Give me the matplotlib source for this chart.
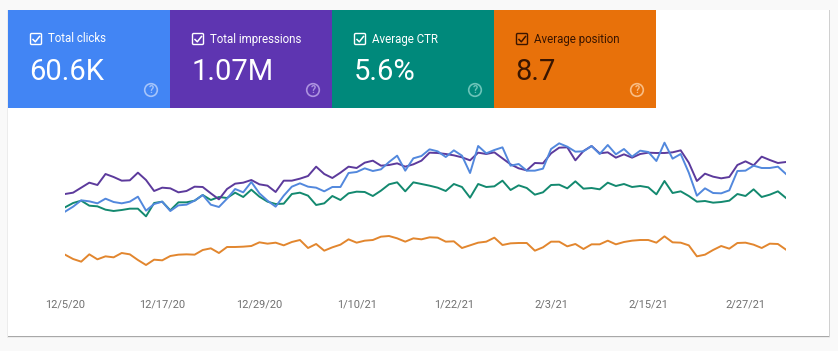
import pandas as pd
import matplotlib
matplotlib.use("Agg")
import matplotlib.pyplot as plt
from matplotlib.patches import Rectangle, Circle, FancyBboxPatch

W, H = 838, 351

# values are heights, no axis shown in the original
dias = pd.date_range("2020-12-05", periods=90, freq="D")

impressoes = [228, 232, 247, 262, 255, 288, 279, 268, 269, 292, 270, 237, 247, 245, 233, 237, 250, 249, 230, 212,
              243, 259, 262, 270, 257, 253, 234, 268, 268, 274, 282, 310, 288, 276, 292, 310, 306, 322, 328, 313,
              315, 320, 310, 317, 328, 352, 351, 348, 344, 338, 329, 352, 348, 353, 335, 317, 305, 299, 321, 320,
              350, 367, 368, 329, 357, 372, 350, 353, 337, 347, 337, 348, 352, 351, 351, 353, 359, 322, 267, 289,
              280, 275, 279, 315, 326, 314, 340, 330, 321, 324]
cliques = [175, 190, 209, 206, 200, 214, 204, 200, 205, 220, 178, 198, 205, 177, 194, 196, 208, 225, 196, 189,
           214, 243, 233, 264, 230, 208, 190, 223, 250, 260, 250, 247, 236, 249, 249, 291, 294, 305, 297, 302,
           324, 343, 298, 335, 342, 362, 356, 339, 359, 343, 291, 372, 350, 360, 368, 313, 318, 298, 298, 304,
           363, 380, 370, 355, 356, 372, 348, 375, 347, 363, 340, 358, 354, 327, 382, 334, 348, 292, 223, 245,
           231, 230, 239, 297, 298, 313, 306, 306, 310, 288]
ctr = [188, 201, 208, 193, 191, 181, 177, 180, 184, 184, 161, 201, 205, 179, 203, 203, 208, 225, 210, 219,
       216, 232, 219, 241, 220, 205, 198, 199, 228, 232, 223, 195, 200, 222, 210, 230, 235, 234, 222, 238,
       257, 263, 236, 263, 258, 253, 247, 237, 258, 249, 217, 258, 249, 251, 268, 240, 254, 246, 226, 233,
       255, 256, 245, 266, 244, 246, 242, 262, 252, 258, 249, 252, 248, 227, 267, 231, 236, 222, 205, 207,
       202, 204, 208, 228, 222, 242, 219, 226, 236, 216]
posicao = [46, 33, 25, 47, 32, 41, 38, 51, 47, 30, 15, 31, 29, 42, 46, 47, 46, 60, 65, 51,
           69, 69, 70, 72, 83, 79, 82, 74, 84, 90, 66, 78, 58, 68, 76, 92, 82, 88, 90, 100,
           102, 95, 85, 95, 92, 98, 97, 85, 86, 66, 74, 82, 85, 97, 75, 80, 81, 81, 58, 68,
           85, 85, 71, 78, 63, 77, 77, 88, 77, 84, 88, 90, 90, 82, 101, 83, 82, 74, 41, 46,
           60, 72, 64, 81, 82, 76, 66, 79, 78, 61]

ticks = ["2020-12-05", "2020-12-17", "2020-12-29", "2021-01-10", "2021-01-22", "2021-02-03", "2021-02-15", "2021-02-27"]
tick_labels = ["12/5/20", "12/17/20", "12/29/20", "1/10/21", "1/22/21", "2/3/21", "2/15/21", "2/27/21"]

titulos = ["Total clicks", "Total impressions", "Average CTR", "Average position"]
totais = ["60.6K", "1.07M", "5.6%", "8.7"]
cores_card = ["#4285f4", "#5e35b1", "#00897b", "#e8710a"]
cores_texto = ["white", "white", "white", "#3a1500"]
cores_ajuda = ["#a5c4fa", "#ad93e0", "#6cc4b9", "#f8bd85"]

plt.rcParams["font.family"] = ["Roboto", "DejaVu Sans"]
fig = plt.figure(figsize=(W / 100, H / 100), dpi=100, facecolor="#f9f9f9")

# background layer in pixel coordinates
bg = fig.add_axes([0, 0, 1, 1])
bg.set_xlim(0, W)
bg.set_ylim(H, 0)
bg.axis("off")
# soft shadow under the card
bg.add_patch(Rectangle((7, 10), 823, 328, fc="#ececec", ec="none", zorder=1))
bg.add_patch(Rectangle((7.5, 10), 822, 327, fc="#d0d0d0", ec="none", zorder=1))
bg.add_patch(Rectangle((8, 10), 821, 326.6, fc="#a8a8a8", ec="none", zorder=1))
bg.add_patch(Rectangle((8, 10), 821, 326, fc="white", ec="none", zorder=2))

for i in range(4):
    x0 = 8 + i * 162
    fg = cores_texto[i]
    bg.add_patch(Rectangle((x0, 10), 162, 97.7, fc=cores_card[i], ec="none", zorder=3))
    bg.add_patch(FancyBboxPatch((x0 + 22.5, 33.5), 11, 11, boxstyle="round,pad=0,rounding_size=1.2",
                                fc="none", ec=fg, lw=1, zorder=4))
    bg.plot([x0 + 25, x0 + 27.3, x0 + 31.5], [39.5, 41.8, 36.5], color=fg, lw=1.1, zorder=5)
    bg.text(x0 + 40, 39, titulos[i], color=fg, fontsize=8.3, va="center", ha="left", zorder=5)
    bg.text(x0 + 21.5, 71.5, totais[i], color=fg, fontsize=21, va="center", ha="left", zorder=5)
    bg.add_patch(Circle((x0 + 143, 90), 6.3, fc="none", ec=cores_ajuda[i], lw=1.2, zorder=4))
    bg.text(x0 + 143, 90, "?", color=cores_ajuda[i], fontsize=7.5, fontweight="bold",
            va="center", ha="center", zorder=5)

# line chart
ax = fig.add_axes([65 / W, (H - 270) / H, (786 - 65) / W, 140 / H])
ax.patch.set_alpha(0)
ax.plot(dias, ctr, color="#13896f", lw=1.4)
ax.plot(dias, impressoes, color="#5c3a9c", lw=1.4)
ax.plot(dias, cliques, color="#5288dd", lw=1.4)
ax.plot(dias, posicao, color="#e2862e", lw=1.4)
ax.set_xlim(dias[0], dias[-1])
ax.set_ylim(0, 420)
ax.set_yticks([])
ax.set_xticks(pd.to_datetime(ticks))
ax.set_xticklabels(tick_labels, fontsize=7.9, color="#707070")
ax.tick_params(axis="x", length=0, pad=21)
for s in ax.spines.values():
    s.set_visible(False)

fig.savefig("out.png", dpi=100, facecolor=fig.get_facecolor())
